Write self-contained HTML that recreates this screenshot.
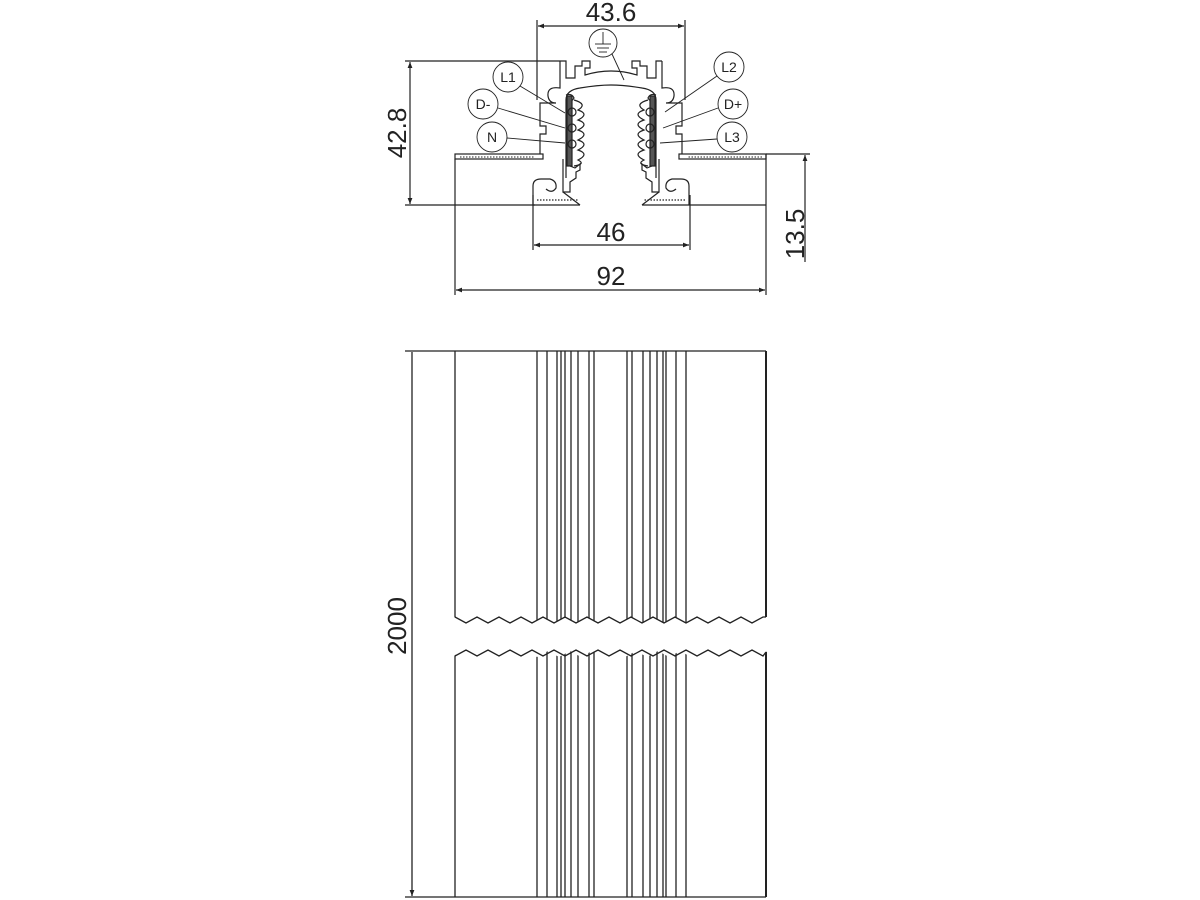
<!DOCTYPE html>
<html><head><meta charset="utf-8"><style>
html,body{margin:0;padding:0;background:#fff;}
svg{display:block;}
text{font-family:"Liberation Sans",sans-serif;fill:#222;}
</style></head><body>
<svg width="1200" height="900" viewBox="0 0 1200 900" xmlns="http://www.w3.org/2000/svg">
<defs>
<marker id="a" viewBox="0 0 10 10" refX="10" refY="5" markerWidth="9" markerHeight="6" orient="auto-start-reverse" markerUnits="userSpaceOnUse"><path d="M0 1 L10 5 L0 9 z" fill="#222"/></marker>
</defs>
<g stroke="#222" fill="none" stroke-width="1.2">
<!-- dimension 43.6 -->
<line x1="537" y1="20" x2="537" y2="100"/>
<line x1="685" y1="20" x2="685" y2="100"/>
<line x1="538" y1="26" x2="684" y2="26" marker-start="url(#a)" marker-end="url(#a)"/>
<!-- 42.8 -->
<line x1="405" y1="61" x2="560" y2="61"/>
<line x1="405" y1="205" x2="535" y2="205"/>
<line x1="410" y1="62" x2="410" y2="204" marker-start="url(#a)" marker-end="url(#a)"/>
<!-- 46 -->
<line x1="533" y1="195" x2="533" y2="250"/>
<line x1="690" y1="195" x2="690" y2="250"/>
<line x1="534" y1="245" x2="689" y2="245" marker-start="url(#a)" marker-end="url(#a)"/>
<!-- 92 -->
<line x1="455" y1="159" x2="455" y2="295"/>
<line x1="766" y1="154" x2="766" y2="295"/>
<line x1="456" y1="290" x2="765" y2="290" marker-start="url(#a)" marker-end="url(#a)"/>
<!-- 13.5 -->
<line x1="766" y1="154" x2="810" y2="154"/>
<line x1="690" y1="205" x2="766" y2="205"/>
<line x1="805" y1="155" x2="805" y2="262" marker-start="url(#a)"/>
<!-- flanges -->
<rect x="455" y="154" width="88" height="5"/>
<rect x="679" y="154" width="87" height="5"/>
<!-- left half of profile -->
<g id="half">
<path d="M560 61 V88 Q547 86 548 96 Q549 103 556 103 H540 V126 H546 V134 H540 V154"/>
<path d="M560 61 H566 V78 H575 V66 H582 V61 H590 V68 H585 V75 Q598 71 611 71"/>
<path d="M566 178 V100 Q566 90 580 88 Q598 85 611 85"/>
<path d="M566 95 Q572 93 574 98 Q572 102 569 100"/>
<path d="M563 159 V192 H570 V182 L576 178 V172 L580 170 V164 L575 168 L570 166"/>
<path d="M580 205 H533 V186 Q533 179 541 179 H550 Q557 181 556 188 Q552 194 546 189"/>
<path d="M563 192 L580 205" />
<path d="M537 200 H578" stroke-dasharray="1.5 1.5"/>
<rect x="567" y="96" width="5" height="70" fill="#555"/>
<path d="M574 100 Q588 104 578 110 Q590 114 578 120 Q590 124 578 130 Q590 134 578 140 Q590 144 578 150 Q590 154 578 160 Q586 164 574 166"/>
<circle cx="572" cy="112" r="4"/>
<circle cx="572" cy="128" r="4"/>
<circle cx="572" cy="144" r="4"/>
<path d="M460 157 H535" stroke-dasharray="1.5 1.5" stroke-width="1"/>
</g>
<use href="#half" transform="translate(1222,0) scale(-1,1)"/>
<!-- label circles -->
<g stroke-width="0.9">
<circle cx="603" cy="43" r="14"/>
<line x1="603" y1="32" x2="603" y2="44"/>
<line x1="595" y1="44" x2="611" y2="44"/>
<line x1="597" y1="48" x2="609" y2="48"/>
<line x1="599" y1="52" x2="607" y2="52"/>
<line x1="612" y1="54" x2="624" y2="80"/>
<circle cx="508" cy="77" r="15"/>
<line x1="520" y1="86" x2="565" y2="113"/>
<circle cx="483" cy="104" r="15"/>
<line x1="498" y1="108" x2="565" y2="128"/>
<circle cx="492" cy="137" r="15"/>
<line x1="507" y1="138" x2="565" y2="143"/>
<circle cx="729" cy="67" r="15"/>
<line x1="717" y1="76" x2="665" y2="112"/>
<circle cx="733" cy="104" r="15"/>
<line x1="718" y1="108" x2="663" y2="128"/>
<circle cx="732" cy="137" r="15"/>
<line x1="717" y1="139" x2="660" y2="143"/>
</g>
</g>
<g font-size="14" text-anchor="middle">
<text x="508" y="82">L1</text>
<text x="483" y="109">D-</text>
<text x="492" y="142">N</text>
<text x="729" y="72">L2</text>
<text x="733" y="109">D+</text>
<text x="732" y="142">L3</text>
</g>
<g font-size="26" text-anchor="middle">
<text x="611" y="21">43.6</text>
<text x="611" y="241">46</text>
<text x="611" y="285">92</text>
<text transform="translate(406,133) rotate(-90)">42.8</text>
<text transform="translate(804,234) rotate(-90)">13.5</text>
<text transform="translate(406,626) rotate(-90)">2000</text>
</g>
<!-- long view -->
<g stroke="#222" fill="none" stroke-width="1.3">
<line x1="405" y1="351" x2="766" y2="351"/>
<line x1="412" y1="352" x2="412" y2="896" marker-end="url(#a)"/>
<line x1="405" y1="897" x2="766" y2="897"/>
<g>
<line x1="455" y1="351" x2="455" y2="897"/>
<line x1="537" y1="351" x2="537" y2="897"/>
<line x1="547" y1="351" x2="547" y2="897"/>
<line x1="557" y1="351" x2="557" y2="897"/>
<line x1="561" y1="351" x2="561" y2="897"/>
<line x1="565" y1="351" x2="565" y2="897"/>
<line x1="571" y1="351" x2="571" y2="897"/>
<line x1="578" y1="351" x2="578" y2="897"/>
<line x1="589" y1="351" x2="589" y2="897"/>
<line x1="594" y1="351" x2="594" y2="897"/>
<line x1="627" y1="351" x2="627" y2="897"/>
<line x1="632" y1="351" x2="632" y2="897"/>
<line x1="643" y1="351" x2="643" y2="897"/>
<line x1="650" y1="351" x2="650" y2="897"/>
<line x1="657" y1="351" x2="657" y2="897"/>
<line x1="663" y1="351" x2="663" y2="897"/>
<line x1="666" y1="351" x2="666" y2="897"/>
<line x1="676" y1="351" x2="676" y2="897"/>
<line x1="686" y1="351" x2="686" y2="897"/>
<line x1="766" y1="351" x2="766" y2="897" stroke-width="2"/>
</g>
<path fill="#fff" stroke="none" d="M454 617 l11 6 l11 -6 l11 6 l11 -6 l11 6 l11 -6 l11 6 l11 -6 l11 6 l11 -6 l11 6 l11 -6 l11 6 l11 -6 l11 6 l11 -6 l11 6 l11 -6 l11 6 l11 -6 l11 6 l11 -6 l11 6 l11 -6 l11 6 l11 -6 l11 6 l11 -6 L768 617 L768 651 l-11 6 l-11 -6 l-11 6 l-11 -6 l-11 6 l-11 -6 l-11 6 l-11 -6 l-11 6 l-11 -6 l-11 6 l-11 -6 l-11 6 l-11 -6 l-11 6 l-11 -6 l-11 6 l-11 -6 l-11 6 l-11 -6 l-11 6 l-11 -6 l-11 6 l-11 -6 l-11 6 l-11 -6 l-11 6 l-11 -6 L454 656 Z"/>
<path d="M455 617 l11 6 l11 -6 l11 6 l11 -6 l11 6 l11 -6 l11 6 l11 -6 l11 6 l11 -6 l11 6 l11 -6 l11 6 l11 -6 l11 6 l11 -6 l11 6 l11 -6 l11 6 l11 -6 l11 6 l11 -6 l11 6 l11 -6 l11 6 l11 -6 l11 6 l11 -6 L766 617"/>
<path d="M455 656 l11 -6 l11 6 l11 -6 l11 6 l11 -6 l11 6 l11 -6 l11 6 l11 -6 l11 6 l11 -6 l11 6 l11 -6 l11 6 l11 -6 l11 6 l11 -6 l11 6 l11 -6 l11 6 l11 -6 l11 6 l11 -6 l11 6 l11 -6 l11 6 l11 -6 l11 6 L766 652"/>
</g>
</svg>
</body></html>
